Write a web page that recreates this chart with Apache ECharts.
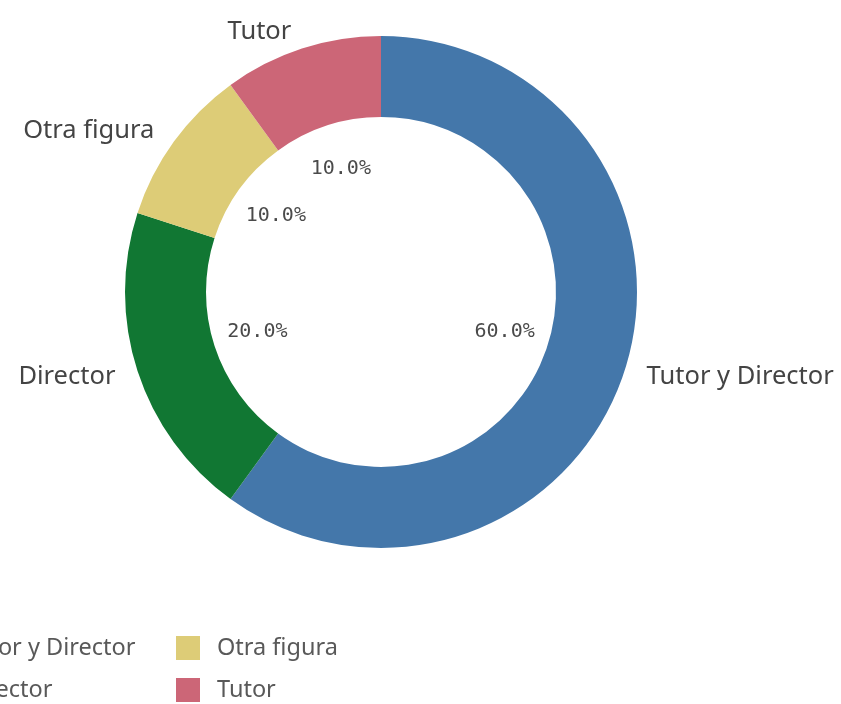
<!DOCTYPE html>
<html><head><meta charset="utf-8">
<script src="https://cdn.jsdelivr.net/npm/echarts@6/dist/echarts.min.js"></script>
<style>html,body{margin:0;padding:0;background:#fff}#c{width:841px;height:704px}</style>
</head><body><div id="c"></div>
<script>
const categories = ['Tutor y Director', 'Director', 'Otra figura', 'Tutor'];
const values = [60, 20, 10, 10];
const colors = ['#4477aa', '#117733', '#ddcc77', '#cc6677'];
const legendOrder = ['Tutor y Director', 'Director', 'Otra figura', 'Tutor'];

const total = values.reduce((a, b) => a + b, 0);
const chart = echarts.init(document.getElementById('c'));
const mainData = categories.map((n, i) => ({ name: n, value: values[i], itemStyle: { color: colors[i] } }));
const pctData = categories.map((n, i) => ({ name: n, value: values[i] }));

chart.setOption({
  animation: false,
  legend: {
    orient: 'vertical',
    left: -83, top: 631, height: 70,
    itemWidth: 24, itemHeight: 24, itemGap: 18,
    icon: 'rect',
    data: legendOrder,
    textStyle: { fontFamily: 'Noto Sans', fontSize: 23.5, color: '#595959', padding: [0, 0, 0, 12], width: 195, lineHeight: 24 }
  },
  series: [
    {
      type: 'pie', name: 'main', center: [381, 292], radius: [175, 256],
      startAngle: 90, clockwise: true, silent: true,
      data: mainData,
      label: { show: true, position: 'outside', formatter: '{b}', fontFamily: 'Noto Sans', fontSize: 25.5, color: '#444', overflow: 'none' },
      labelLine: { show: false, length: 18, length2: 0 },
      itemStyle: { borderWidth: 0 }
    },
    {
      type: 'pie', name: 'pct', center: [381, 292], radius: [0, 254],
      startAngle: 90, clockwise: true, silent: true,
      data: pctData,
      itemStyle: { color: 'rgba(0,0,0,0)' },
      label: { show: true, position: 'inside', formatter: p => (p.value / total * 100).toFixed(1) + '%', fontFamily: 'DejaVu Sans Mono', fontSize: 20, color: '#4a4a4a' },
      labelLine: { show: false },
      z: 3
    }
  ]
});
</script></body></html>
